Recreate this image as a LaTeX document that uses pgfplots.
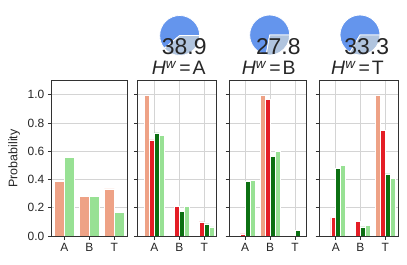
\documentclass[border=0pt]{standalone}
\usepackage{fontspec}
\setmainfont{Liberation Sans}
\usepackage{pgfplots}
\pgfplotsset{compat=1.18}

\definecolor{salm}{RGB}{238,162,134}
\definecolor{lgreen}{RGB}{152,225,148}
\definecolor{bred}{RGB}{228,30,38}
\definecolor{dgreen}{RGB}{12,112,18}
\definecolor{cblue}{RGB}{100,149,237}
\definecolor{lsteel}{RGB}{176,196,222}
\definecolor{spine}{RGB}{50,50,50}
\definecolor{gridc}{RGB}{212,212,212}

\pgfplotsset{
  panel/.style={
    scale only axis, height=155.3bp, anchor=south west,
    ymin=0, ymax=1.1,
    xtick={0,1,2}, xticklabels={A,B,T},
    ytick={0,0.2,0.4,0.6,0.8,1.0},
    yticklabel style={/pgf/number format/.cd, fixed, fixed zerofill, precision=1},
    /pgf/number format/assume math mode=true,
    tick align=outside, tick pos=left, major tick length=3.5bp,
    tick style={spine, line width=0.8bp},
    axis line style={spine, line width=0.9bp},
    grid style={gridc, line width=0.9bp},
    ymajorgrids,
    tick label style={font=\fontsize{12}{14}\selectfont, text=black!85},
  },
  b1/.style={ybar, bar width=0.4, draw=white, line width=0.7bp},
  b2/.style={ybar, bar width=0.2, draw=white, line width=0.6bp},
}

\newcommand{\pie}[3]{%
  \fill[cblue, draw=white, line width=0.8bp] (#1,#2) -- ++(0:20) arc[start angle=0, end angle={360-3.6*#3}, radius=20] -- cycle;
  \fill[lsteel, draw=white, line width=0.8bp] (#1,#2) -- ++(0:20) arc[start angle=0, end angle={-3.6*#3}, radius=20] -- cycle;
}
\newcommand{\hw}[1]{\textit{H}\raisebox{6.5bp}{\fontsize{13.5}{14}\selectfont\textit{w}}\hspace{0.15em}=\hspace{0.1em}#1}

\begin{document}
\begin{tikzpicture}[x=1bp,y=1bp]
\path[use as bounding box] (0,0) rectangle (407,265);

% Panel 1
\begin{axis}[panel, at={(51.3bp,29bp)}, width=76bp, xmin=-0.52, xmax=2.52]
\addplot[b1, bar shift=-0.2, fill=salm] coordinates {(0,0.389) (1,0.278) (2,0.333)};
\addplot[b1, bar shift=0.2, fill=lgreen] coordinates {(0,0.556) (1,0.278) (2,0.166)};
\end{axis}

% Panel 2
\begin{axis}[panel, at={(137.3bp,29bp)}, width=79.4bp, xmin=-0.68, xmax=2.5, xmajorgrids, yticklabels={}]
\addplot[b2, bar shift=-0.3, fill=salm] coordinates {(0,1.0)};
\addplot[b2, bar shift=-0.1, fill=bred] coordinates {(0,0.68) (1,0.21) (2,0.10)};
\addplot[b2, bar shift=0.1, fill=dgreen] coordinates {(0,0.73) (1,0.175) (2,0.085)};
\addplot[b2, bar shift=0.3, fill=lgreen] coordinates {(0,0.715) (1,0.21) (2,0.065)};
\end{axis}

% Panel 3
\begin{axis}[panel, at={(229bp,29bp)}, width=77bp, xmin=-0.64, xmax=2.44, xmajorgrids, yticklabels={}]
\addplot[b2, bar shift=-0.3, fill=salm] coordinates {(1,1.0)};
\addplot[b2, bar shift=-0.1, fill=bred] coordinates {(0,0.015) (1,0.97)};
\addplot[b2, bar shift=0.1, fill=dgreen] coordinates {(0,0.385) (1,0.565) (2,0.04)};
\addplot[b2, bar shift=0.3, fill=lgreen] coordinates {(0,0.395) (1,0.60)};
\end{axis}

% Panel 4
\begin{axis}[panel, at={(319bp,29bp)}, width=79bp, xmin=-0.68, xmax=2.52, xmajorgrids, yticklabels={}]
\addplot[b2, bar shift=-0.3, fill=salm] coordinates {(2,1.0)};
\addplot[b2, bar shift=-0.1, fill=bred] coordinates {(0,0.13) (1,0.105) (2,0.75)};
\addplot[b2, bar shift=0.1, fill=dgreen] coordinates {(0,0.48) (1,0.065) (2,0.44)};
\addplot[b2, bar shift=0.3, fill=lgreen] coordinates {(0,0.50) (1,0.075) (2,0.41)};
\end{axis}

% y label
\node[rotate=90, font=\fontsize{12.5}{14}\selectfont, text=black!85] at (14.2,106.5) {Probability};

% pies and titles
\pie{179.7}{229.5}{38.9}
\pie{269.7}{230}{27.8}
\pie{360}{230}{33.3}

\node[anchor=base, font=\fontsize{23}{26}\selectfont, text=black!85, inner sep=0pt] at (184.2,211) {38.9};
\node[anchor=base, font=\fontsize{23}{26}\selectfont, text=black!85, inner sep=0pt] at (278.3,211) {27.8};
\node[anchor=base, font=\fontsize{23}{26}\selectfont, text=black!85, inner sep=0pt] at (366.7,211) {33.3};

\node[anchor=base, font=\fontsize{19.5}{22}\selectfont, text=black!85, inner sep=0pt] at (178.7,190.5) {\hw{A}};
\node[anchor=base, font=\fontsize{19.5}{22}\selectfont, text=black!85, inner sep=0pt] at (268.7,190.5) {\hw{B}};
\node[anchor=base, font=\fontsize{19.5}{22}\selectfont, text=black!85, inner sep=0pt] at (357.5,190.5) {\hw{T}};
\end{tikzpicture}
\end{document}
